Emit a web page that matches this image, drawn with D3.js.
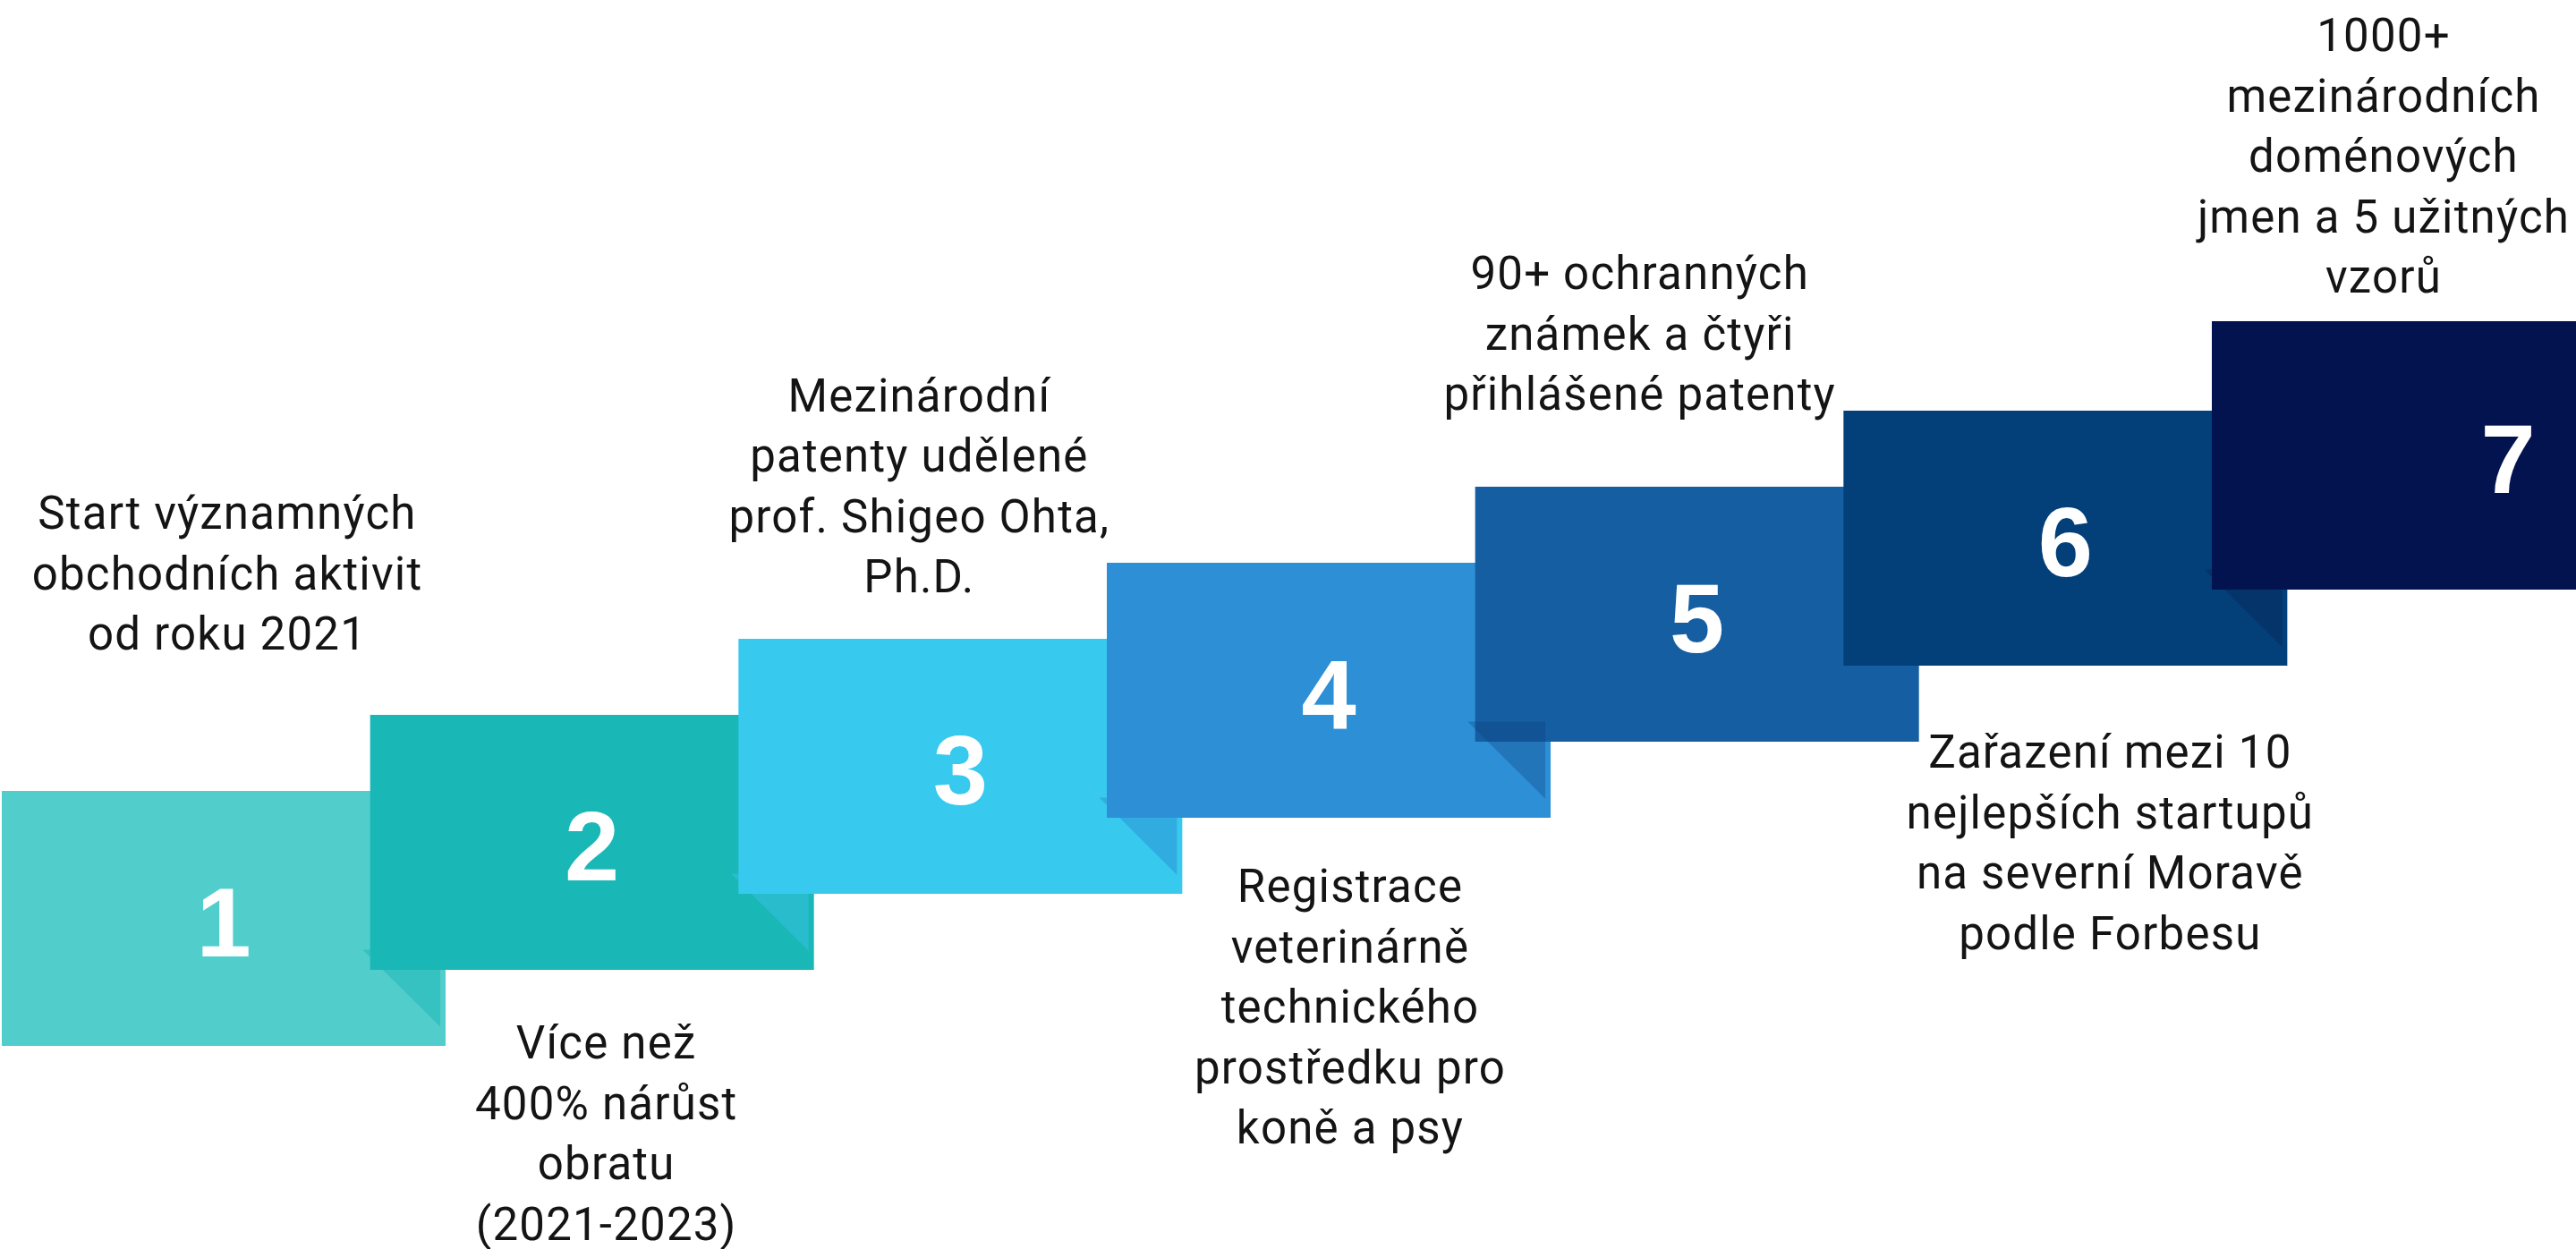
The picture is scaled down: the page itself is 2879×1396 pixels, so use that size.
<!DOCTYPE html>
<html>

<head>
    <meta charset="utf-8">
    <title>Milníky</title>
    <script src="https://d3js.org/d3.v7.min.js"></script>
    <style>
        html, body { margin: 0; padding: 0; background: #fff; overflow: hidden; }
    </style>
</head>

<body>
    <div id="chart"></div>
</body>

<script type="text/javascript">
    // steps of the staircase
    var steps = [1, 2, 3, 4, 5, 6, 7];

    // text of each step, line by line
    var labels = [
        ["Start významných", "obchodních aktivit", "od roku 2021"],
        ["Více než", "400% nárůst", "obratu", "(2021-2023)"],
        ["Mezinárodní", "patenty udělené", "prof. Shigeo Ohta,", "Ph.D."],
        ["Registrace", "veterinárně", "technického", "prostředku pro", "koně a psy"],
        ["90+ ochranných", "známek a čtyři", "přihlášené patenty"],
        ["Zařazení mezi 10", "nejlepších startupů", "na severní Moravě", "podle Forbesu"],
        ["1000+", "mezinárodních", "doménových", "jmen a 5 užitných", "vzorů"]
    ];

    // where the text sits: above or below its step
    var sides = ["above", "below", "above", "below", "above", "below", "above"];

    var colors = ["#51cecc", "#1ab7b7", "#38c9ef", "#2d8fd5", "#165ea2", "#033f78", "#02134f"];

    // fold in the bottom right corner (null = none)
    var folds = ["#36c2c0", "#29bccd", "#30ace1", "over", null, "#04346a", null];

    var width = 2879;
    var height = 1396;
    var boxW = 496, boxH = 285;
    var lastW = 662, lastH = 300;
    var lineH = 67.5;

    // small nudges of each text block against its box
    var labelDx = [4, 16, -46, 24, -64, 50, -139];
    var labelDy = [-158, 99, -52, 94, -86, 114, -32];

    var svg = d3.select("#chart")
        .append("svg")
        .attr("width", width)
        .attr("height", height);

    // left edge of every box
    var x = d3.scaleLinear()
        .domain([1, 7])
        .range([2, 2472]);

    // bottom edge of every box
    var y = d3.scaleLinear()
        .domain([1, 7])
        .range([1169, 659]);

    function bw(d) { return d === 7 ? lastW : boxW; }
    function bh(d) { return d === 7 ? lastH : boxH; }

    function foldPath(d) {
        var x0 = x(d), y0 = y(d) - bh(d), w = bw(d), h = bh(d);
        return "M" + (x0 + 0.813 * w) + "," + (y0 + 0.623 * h) +
            "L" + (x0 + 0.988 * w) + "," + (y0 + 0.623 * h) +
            "L" + (x0 + 0.988 * w) + "," + (y0 + 0.925 * h) + "Z";
    }

    var boxes = svg.append("g");

    steps.forEach(function (d, i) {
        boxes.append("rect")
            .attr("x", x(d))
            .attr("y", y(d) - bh(d))
            .attr("width", bw(d))
            .attr("height", bh(d))
            .style("fill", colors[i]);

        // fold of the previous box that lies on top of this one
        if (i > 0 && folds[i - 1] === "over") {
            boxes.append("path")
                .attr("d", foldPath(steps[i - 1]))
                .style("fill", "#0a3c78")
                .style("opacity", 0.3);
        }
        // fold of this box, under the next box
        if (folds[i] && folds[i] !== "over") {
            boxes.append("path")
                .attr("d", foldPath(d))
                .style("fill", folds[i]);
        }
    });

    // big numbers
    svg.append("g")
        .selectAll("text")
        .data(steps)
        .enter()
        .append("text")
        .attr("x", function (d) { return x(d) + bw(d) / 2; })
        .attr("y", function (d) { return y(d) - bh(d) / 2 + 42; })
        .attr("text-anchor", "middle")
        .style("font-family", "'Liberation Sans', Arial, sans-serif")
        .style("font-weight", "bold")
        .style("font-size", "110px")
        .style("fill", "#fff")
        .text(function (d) { return d; });

    // descriptions
    var texts = svg.append("g")
        .selectAll("text")
        .data(steps)
        .enter()
        .append("text")
        .attr("text-anchor", "middle")
        .style("font-family", "Roboto, sans-serif")
        .style("font-size", "51px")
        .style("letter-spacing", "1.2px")
        .style("fill", "#141414")
        .attr("transform", function (d, i) {
            var cx = x(d) + bw(d) / 2 + labelDx[i];
            var n = labels[i].length;
            var first = sides[i] === "above"
                ? y(d) - bh(d) + labelDy[i] - (n - 1) * lineH
                : y(d) + labelDy[i];
            return "translate(" + cx + "," + first + ")";
        });

    texts.selectAll("tspan")
        .data(function (d, i) { return labels[i]; })
        .enter()
        .append("tspan")
        .attr("x", 0)
        .attr("y", function (d, j) { return j * lineH; })
        .text(function (d) { return d; });
</script>

</html>
